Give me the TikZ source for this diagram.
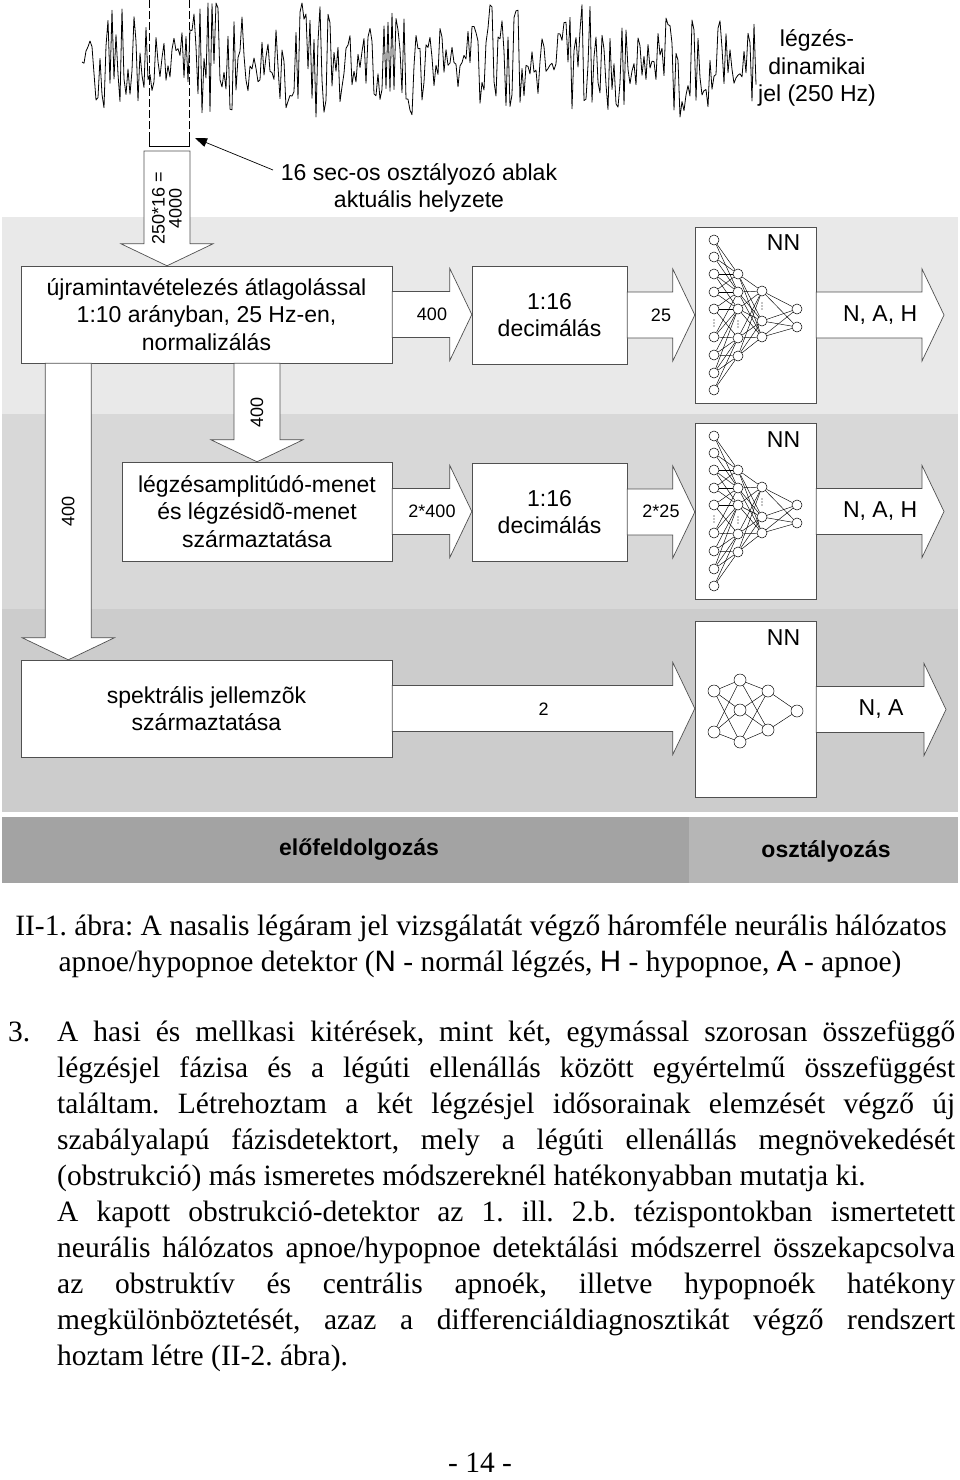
\documentclass[tikz,border=0pt]{standalone}
\usepackage{fontspec}
\setmainfont{Liberation Serif}
\setsansfont{Liberation Sans}
\usetikzlibrary{arrows.meta, calc, positioning}
\frenchspacing

\definecolor{bandA}{HTML}{E9E9E9}
\definecolor{bandB}{HTML}{D8D8D8}
\definecolor{bandC}{HTML}{CCCCCC}
\definecolor{tagL}{HTML}{A3A3A3}
\definecolor{tagR}{HTML}{B6B6B6}
\definecolor{edge}{HTML}{505050}

\newcommand{\boxfont}{\sffamily\fontsize{23}{27.5}\selectfont}
\newcommand{\smallfont}{\sffamily\fontsize{18}{17}\selectfont}
\newcommand{\bodyfont}{\rmfamily\fontsize{29.5}{36}\selectfont}

\tikzstyle{procbox} = [
    rectangle,
    draw=edge,
    fill=white,
    align=center,
    font=\boxfont,
    inner sep=0pt
]
\tikzstyle{netbox} = [
    rectangle,
    draw=edge,
    fill=white,
    minimum width=121pt,
    minimum height=176pt,
    inner sep=0pt
]
\tikzstyle{neuron} = [circle, draw=black, fill=white, line width=0.5pt, minimum size=10pt, inner sep=0pt]
\tikzstyle{bigneuron} = [neuron, minimum size=12pt]
\tikzstyle{synapse} = [line width=0.45pt]
\tikzstyle{fat} = [draw=edge, fill=white, line width=0.7pt, line join=miter]
\tikzstyle{pointer} = [line width=0.7pt, -{Triangle[length=12pt,width=9pt]}]
\tikzstyle{arrowtext} = [font=\smallfont, align=center]
\tikzstyle{outtext} = [font=\boxfont]
\tikzstyle{bodyline} = [anchor=base west, inner sep=0pt, font=\bodyfont]

% fat arrow to the right: start, tip, text style, text
\newcommand{\fatright}[4]{%
  \path[fat] let \p1=(#1), \p2=(#2) in
    (\x1,\y1+23pt) -- (\x2-22pt,\y1+23pt) -- (\x2-22pt,\y1+46pt) -- (\x2,\y1)
    -- (\x2-22pt,\y1-46pt) -- (\x2-22pt,\y1-23pt) -- (\x1,\y1-23pt) -- cycle;
  \node[#3] at ($(#1)!0.5!(#2)$) {#4};
}
% fat arrow downwards: start, tip, text
\newcommand{\fatdown}[3]{%
  \path[fat] let \p1=(#1), \p2=(#2) in
    (\x1-23pt,\y1) -- (\x1-23pt,\y2+22pt) -- (\x1-46pt,\y2+22pt) -- (\x1,\y2)
    -- (\x1+46pt,\y2+22pt) -- (\x1+23pt,\y2+22pt) -- (\x1+23pt,\y1) -- cycle;
  \node[arrowtext, rotate=90] at ($(#1)!0.5!(#2)$) {#3};
}
% neural net drawing: name prefix, vertical shift
\newcommand{\bignet}[2]{%
  \begin{scope}[shift={(0,#2)}]
    \foreach \i/\yy in {1/240,2/257,3/274,4/292,5/309,6/337,7/355,8/373,9/390}
      \node[neuron] (#1i\i) at (714,\yy) {};
    \foreach \j/\yy in {1/274,2/292,3/309,4/338,5/356}
      \node[neuron] (#1h\j) at (738,\yy) {};
    \foreach \k/\yy in {1/291,2/321,3/337}
      \node[neuron] (#1g\k) at (762,\yy) {};
    \foreach \m/\yy in {1/309,2/327}
      \node[neuron] (#1o\m) at (797,\yy) {};
    \foreach \i in {1,...,9}
      \foreach \j in {1,...,5} {
        \pgfmathtruncatemacro\ok{abs(\i*0.5-\j+0.2)<1.6}
        \ifnum\ok=1 \draw[synapse] (#1i\i) -- (#1h\j); \fi
      }
    \foreach \j in {1,...,5}
      \foreach \k in {1,2,3}
        \draw[synapse] (#1h\j) -- (#1g\k);
    \foreach \k in {1,2,3}
      \foreach \m in {1,2}
        \draw[synapse] (#1g\k) -- (#1o\m);
    % dots
    \foreach \xx/\yy in {714/323,738/324,762/306}
      \foreach \d in {-3,0,3}
        \fill (\xx,\yy+\d) circle (0.6pt);
  \end{scope}
}

\begin{document}
\begin{tikzpicture}[x=1pt, y=-1pt]

\useasboundingbox (0,0) rectangle (960,1480);
\fill[white] (0,0) rectangle (960,1480);

% background bands
\fill[bandA] (2,217) rectangle (958,414);
\fill[bandB] (2,414) rectangle (958,609);
\fill[bandC] (2,609) rectangle (958,812);
\fill[tagL] (2,817) rectangle (689,883);
\fill[tagR] (689,817) rectangle (958,883);

% breathing signal
\pgfmathsetseed{11}
\draw[line width=0.8pt, line join=round] (82,62)
  \foreach \x in {84,86,...,756} {
    -- (\x,{min(117,max(3,62+60*rand*(0.3+0.75*abs(sin(1.9*\x+40)))))})
  };
\draw[dash pattern=on 8pt off 3pt, line width=0.8pt] (149,0) -- (149,133);
\draw[dash pattern=on 8pt off 3pt, line width=0.8pt] (189,0) -- (189,133);
\draw[line width=0.9pt] (149,133) -- (149,146) -- (189,146) -- (189,133);

\node[outtext, align=center] (siglabel) at (817,68) {légzés-\\dinamikai\\jel (250 Hz)};
\node[outtext, align=center] (winlabel) at (419,188) {16 sec-os osztályozó ablak\\aktuális helyzete};
\coordinate (ptail) at (273,170);
\coordinate (bracket) at (195,138);
\draw[pointer] (ptail) -- (bracket);

% processing boxes
\node (resample) [procbox, minimum width=371pt, minimum height=97pt] at (206.5,314.5)
{újramintavételezés átlagolással\\1:10 arányban, 25 Hz-en,\\normalizálás};

\node (deci1) [procbox, minimum width=155pt, minimum height=98pt] at (549.5,315)
{1:16\\decimálás};

\node (nn1) [netbox] at (755.5,315) {};

\node (legz) [procbox, minimum width=270pt, minimum height=99pt] at (257,511.5)
{légzésamplitúdó-menet\\és légzésidõ-menet\\származtatása};

\node (deci2) [procbox, minimum width=155pt, minimum height=98pt] at (549.5,512)
{1:16\\decimálás};

\node (nn2) [netbox] at (755.5,511.5) {};

\node (spekt) [procbox, minimum width=371pt, minimum height=97pt] at (206.5,708.5)
{spektrális jellemzõk\\származtatása};

\node (nn3) [netbox] at (755.5,709.5) {};

\node (nnlab1) [outtext] at ($(nn1.north)+(28,16)$) {NN};
\node (nnlab2) [outtext] at ($(nn2.north)+(28,16)$) {NN};
\node (nnlab3) [outtext] at ($(nn3.north)+(28,16)$) {NN};

% arrows
\coordinate (wintop) at (167,151);
\coordinate (wintip) at (wintop |- resample.north);
\coordinate (d1s) at (resample.south -| legz.north);
\coordinate (d2s) at ($(resample.south west)+(47.5,0)$);
\coordinate (d2t) at (d2s |- spekt.north);
\coordinate (out1) at (944,315);
\coordinate (out2) at (944,511.5);
\coordinate (out3) at (946,708.5);

\fatdown{wintop}{wintip}{250*16 =\\4000}
\fatdown{d1s}{legz.north}{400}
\fatdown{d2s}{d2t}{400}

\fatright{resample.east}{deci1.west}{arrowtext}{400}
\fatright{deci1.east}{nn1.west}{arrowtext}{25}
\fatright{nn1.east}{out1}{outtext}{N, A, H}
\fatright{legz.east}{deci2.west}{arrowtext}{2*400}
\fatright{deci2.east}{nn2.west}{arrowtext}{2*25}
\fatright{nn2.east}{out2}{outtext}{N, A, H}
\fatright{spekt.east}{nn3.west}{arrowtext}{2}
\fatright{nn3.east}{out3}{outtext}{N, A}

% networks
\bignet{a}{0}
\bignet{b}{196}

\foreach \i/\yy in {1/691,2/732} \node[bigneuron] (ci\i) at (714,\yy) {};
\foreach \j/\yy in {1/680,2/710,3/742} \node[bigneuron] (ch\j) at (740,\yy) {};
\foreach \k/\yy in {1/691,2/730} \node[bigneuron] (cg\k) at (768,\yy) {};
\node[bigneuron] (co1) at (797,711) {};
\foreach \i in {1,2} \foreach \j in {1,2,3} \draw[synapse] (ci\i) -- (ch\j);
\foreach \j in {1,2,3} \foreach \k in {1,2} \draw[synapse] (ch\j) -- (cg\k);
\foreach \k in {1,2} \draw[synapse] (cg\k) -- (co1);

% stage labels
\node (prelab) [font=\sffamily\bfseries\fontsize{23}{27}\selectfont] at (359,849) {előfeldolgozás};
\node (clslab) [font=\sffamily\bfseries\fontsize{23}{27}\selectfont] at (826,851) {osztályozás};

% caption
\node (cap1) [font=\bodyfont, anchor=base, inner sep=0pt] at (481,935)
{II-1. ábra: A nasalis légáram jel vizsgálatát végző háromféle neurális hálózatos};
\node (cap2) [font=\bodyfont, anchor=base, inner sep=0pt] at (480,971)
{apnoe/hypopnoe detektor (\textsf{N} - normál légzés, \textsf{H} - hypopnoe, \textsf{A} - apnoe)};

% body text
\node (num) [bodyline] at (8,1041) {3.};
\node (ln1) [bodyline] at (57,1041) {\makebox[898pt][s]{A hasi és mellkasi kitérések, mint két, egymással szorosan összefüggő}};
\node (ln2) [bodyline] at (57,1077) {\makebox[898pt][s]{légzésjel fázisa és a légúti ellenállás között egyértelmű összefüggést}};
\node (ln3) [bodyline] at (57,1113) {\makebox[898pt][s]{találtam. Létrehoztam a két légzésjel idősorainak elemzését végző új}};
\node (ln4) [bodyline] at (57,1149) {\makebox[898pt][s]{szabályalapú fázisdetektort, mely a légúti ellenállás megnövekedését}};
\node (ln5) [bodyline] at (57,1185) {(obstrukció) más ismeretes módszereknél hatékonyabban mutatja ki.};
\node (ln6) [bodyline] at (57,1221) {\makebox[898pt][s]{A kapott obstrukció-detektor az 1. ill. 2.b. tézispontokban ismertetett}};
\node (ln7) [bodyline] at (57,1257) {\makebox[898pt][s]{neurális hálózatos apnoe/hypopnoe detektálási módszerrel összekapcsolva}};
\node (ln8) [bodyline] at (57,1293) {\makebox[898pt][s]{az obstruktív és centrális apnoék, illetve hypopnoék hatékony}};
\node (ln9) [bodyline] at (57,1329) {\makebox[898pt][s]{megkülönböztetését, azaz a differenciáldiagnosztikát végző rendszert}};
\node (ln10) [bodyline] at (57,1365) {hoztam létre (II-2. ábra).};

\node (pagenum) [font=\bodyfont, anchor=base, inner sep=0pt] at (480,1472) {- 14 -};

\end{tikzpicture}
\end{document}
